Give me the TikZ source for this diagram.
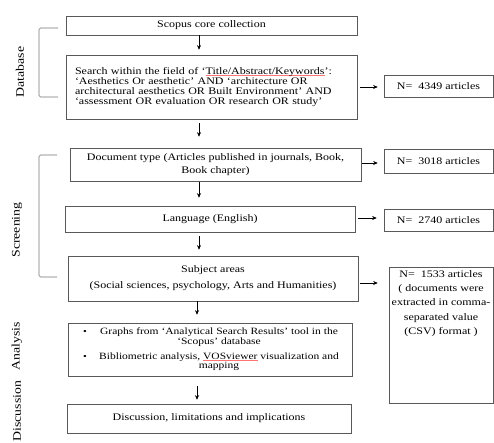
\documentclass[tikz,border=0pt]{standalone}
\usepackage{fontspec}
\setmainfont[FakeStretch=1.2]{Liberation Serif}
\usetikzlibrary{arrows.meta, calc}

\tikzset{
    box/.style={draw=black!65, line width=0.6pt, inner sep=2pt, align=center,
        font=\fontsize{10}{9.8}\selectfont},
    arr/.style={-{Stealth[length=4.5pt,width=4pt]}, line width=0.7pt},
    bracket/.style={draw=black!55, line width=0.6pt, rounded corners=1.5pt},
    side/.style={rotate=90, font=\fontsize{11.5}{12}\selectfont},
}
% spell-check style underline
\newcommand{\spell}[1]{\setbox0\hbox{#1}\leavevmode\rlap{\textcolor{red!55}{\rule[-1pt]{\wd0}{0.3pt}}}\box0\relax}

\begin{document}
\begin{tikzpicture}[x=1pt, y=-1pt]
        \useasboundingbox (0,0) rectangle (494,442);

        % Main column
        \node[box, minimum width=291pt, minimum height=19pt] (scopus) at (211.5,25.5)
            {Scopus core collection};
        \node[box, minimum width=291pt, minimum height=64pt, text width=273pt, align=left] (search) at (211.5,87)
            {Search within the field of ‘\spell{Title/Abstract/Keywords}’:\\
             ‘Aesthetics Or aesthetic’ AND ‘architecture OR\\
             architectural aesthetics OR Built Environment’ AND\\
             ‘assessment OR evaluation OR research OR study’};
        \node[box, minimum width=291pt, minimum height=33pt] (doctype) at (215.5,164.5)
            {Document type (Articles published in journals, Book,\\[4pt] Book chapter)};
        \node[box, minimum width=290pt, minimum height=26pt] (language) at (210,219)
            {Language (English)};
        \node[box, minimum width=290pt, minimum height=45pt] (subject) at (213,278.5)
            {Subject areas\\[6pt] (Social sciences, psychology, Arts and Humanities)};
        \node[box, minimum width=284pt, minimum height=53pt, align=left, font=\fontsize{9.6}{9.6}\selectfont] (analysis) at (210,349.5)
            {\hspace*{6pt}\makebox[12pt][l]{\small\textbullet}\parbox[t]{248pt}{\centering Graphs from ‘Analytical Search Results’ tool in the\\ ‘Scopus’ database}\\[5pt]
             \hspace*{6pt}\makebox[12pt][l]{\small\textbullet}\parbox[t]{248pt}{\centering Bibliometric analysis, \spell{VOSviewer} visualization and\\ mapping}};
        \node[box, minimum width=284pt, minimum height=29pt] (discussion) at (209,418.5)
            {Discussion, limitations and implications};

        % Counts
        \node[box, minimum width=109pt, minimum height=22pt] (n1) at (438.5,86) {N=\ \ 4349 articles};
        \node[box, minimum width=109pt, minimum height=24pt] (n2) at (438.5,161) {N=\ \ 3018 articles};
        \node[box, minimum width=109pt, minimum height=22pt] (n3) at (438.5,220) {N=\ \ 2740 articles};
        \node[box, anchor=north, font=\fontsize{10}{14.3}\selectfont] (n4) at (441,267)
            {\parbox[t][132pt][t]{100pt}{\centering \vspace{1pt}N=\ \ 1533 articles\\ ( documents were\\
             extracted in comma-\\ separated value\\ (CSV) format )}};

        % Side labels
        \node[side] (dbLabel) at (20,72) {Database};
        \node[side] (scrLabel) at (17,230) {Screening};
        \node[side] (anaLabel) at (17,346) {Analysis};
        \node[side] (disLabel) at (17,411) {Discussion};
        \draw[bracket] (58,28) -- (39,28) -- (39,97) -- (58,97);    % Database
        \draw[bracket] (57,155) -- (39,155) -- (39,277) -- (57,277); % Screening

        % Down arrows
        \coordinate (spine) at (199,0);
        \coordinate (spineB) at (197,0);
        \foreach \a/\b/\s/\e/\c in {scopus/search/0pt/5pt/spine, search/doctype/4pt/11pt/spine,
            doctype/language/1pt/8pt/spine, language/subject/4pt/6pt/spine,
            subject/analysis/0pt/8pt/spineB, analysis/discussion/10pt/4pt/spineB}
            \draw[arr, shorten <=\s, shorten >=\e] (\a.south -| \c) -- (\b.north -| \c);

        % Side arrows
        \draw[arr, shorten <=3pt, shorten >=6pt] (search.east) -- (search.east -| n1.west);
        \draw[arr, shorten <=1pt, shorten >=6pt] ([yshift=1.5pt]doctype.east) -- ([yshift=1.5pt]doctype.east -| n2.west);
        \draw[arr, shorten <=3pt, shorten >=7pt] ([yshift=1pt]language.east) -- ([yshift=1pt]language.east -| n3.west);
        \draw[arr, shorten <=2pt, shorten >=11pt] ([yshift=-4.5pt]subject.east) -- ([yshift=-4.5pt]subject.east -| n4.west);
\end{tikzpicture}
\end{document}
